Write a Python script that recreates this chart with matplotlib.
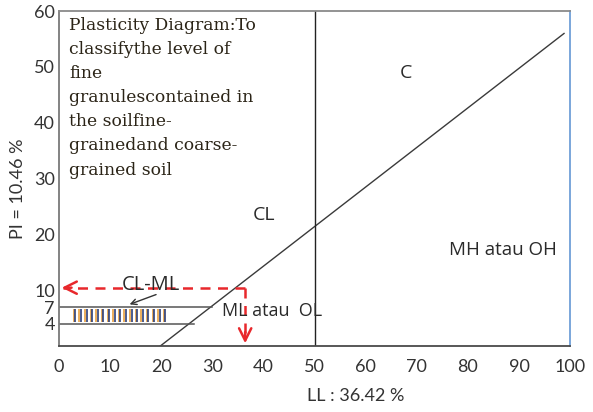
import numpy as np
import matplotlib
matplotlib.use("Agg")
import matplotlib.pyplot as plt

# ── data ─────────────────────────────────────────────────────────────
ll_value = 36.42
pi_value = 10.46

x_ticks = [0, 10, 20, 30, 40, 50, 60, 70, 80, 90, 100]
y_ticks = [4, 7, 10, 20, 30, 40, 50, 60]

# A-line (as drawn) and LL = 50 boundary
a_line_ll = [19.8, 98.8]
a_line_pi = [0, 56]
ll_boundary = 50

# CL-ML band limits
band_pi = [4, 7]
band_end_ll = [26.5, 30]
hatch_ll = [3.2, 4.3, 5.4, 6.5, 7.6, 8.7, 9.8, 10.9, 12.0, 13.1,
            14.2, 15.3, 16.4, 17.5, 18.6, 19.7, 20.8]

title_txt = ("Plasticity Diagram:To\nclassifythe level of\nfine\n"
             "granulescontained in\nthe soilfine-\ngrainedand coarse-\n"
             "grained soil")

# ── figure ───────────────────────────────────────────────────────────
plt.rcParams["font.family"] = ["Lato", "DejaVu Sans"]
fig = plt.figure(figsize=(5.93, 4.12), dpi=100)
ax = fig.add_axes([0.0995, 0.160, 0.862, 0.813])
ax.set_xlim(0, 100)
ax.set_ylim(0, 60)

for s, c in [("left", "#7a7a7a"), ("top", "#8a8a8a"),
             ("bottom", "#4a4a4a"), ("right", "#6f9fd8")]:
    ax.spines[s].set_color(c)
    ax.spines[s].set_linewidth(1.3)

ax.set_xticks(x_ticks)
ax.set_yticks(y_ticks)
ax.tick_params(length=0, labelsize=13, colors="#333333", pad=9)
ax.tick_params(axis="y", pad=3)
ax.set_xlabel("LL : 36.42 %", fontsize=13, color="#333333")
ax.xaxis.set_label_coords(0.58, -0.125)
ax.set_ylabel("PI = 10.46 %", fontsize=13, color="#333333")
ax.yaxis.set_label_coords(-0.064, 0.47)

# lines
ax.plot(a_line_ll, a_line_pi, color="#3a3a3a", lw=1)
ax.axvline(ll_boundary, color="#222222", lw=1)
for p, e in zip(band_pi, band_end_ll):
    ax.plot([0, e], [p, p], color="#555555", lw=1.1)

# hatch between PI 4 and 7
ax.vlines(np.array(hatch_ll) - 0.3, 4.4, 6.7, color="#e8a040", lw=1.2)
ax.vlines(hatch_ll, 4.4, 6.7, color="#2c3f7a", lw=1.2)

# red dashed guide to LL / PI
red = "#e8282c"
ax.plot([ll_value, ll_value], [pi_value, 1.2], color=red, lw=1.8,
        ls=(0, (4, 3)))
ax.plot([ll_value, 0.8], [pi_value, pi_value], color=red, lw=1.8,
        ls=(0, (4, 3)))
ax.annotate("", xy=(0, pi_value), xytext=(3, pi_value),
            arrowprops=dict(arrowstyle="->", color=red, lw=1.8,
                            mutation_scale=22))
ax.annotate("", xy=(ll_value, 0), xytext=(ll_value, 3),
            arrowprops=dict(arrowstyle="->", color=red, lw=1.8,
                            mutation_scale=22))

# labels
txt = "#2a2a2a"
lbl_font = ["Open Sans", "DejaVu Sans"]
ax.text(18.0, 11.0, "CL-ML", ha="center", va="center", fontsize=14.5,
        color=txt, family=lbl_font)
ax.annotate("", xy=(13.3, 7.3), xytext=(19.5, 9.4),
            arrowprops=dict(arrowstyle="->", color="#333333", lw=1))
ax.text(31.8, 6.3, "ML atau  OL", ha="left", va="center", fontsize=13,
        color=txt, family=lbl_font)
ax.text(40.2, 23.5, "CL", ha="center", va="center", fontsize=14,
        color=txt, family=lbl_font)
ax.text(67.8, 49.0, "C", ha="center", va="center", fontsize=14,
        color=txt, family=lbl_font)
ax.text(86.8, 17.2, "MH atau OH", ha="center", va="center", fontsize=13.5,
        color=txt, family=lbl_font)

ax.text(2.0, 59.0, title_txt, ha="left", va="top", fontsize=12.3,
        color="#2b2417", family=["DejaVu Serif"], linespacing=1.55)

fig.savefig("out.png", dpi=100)
